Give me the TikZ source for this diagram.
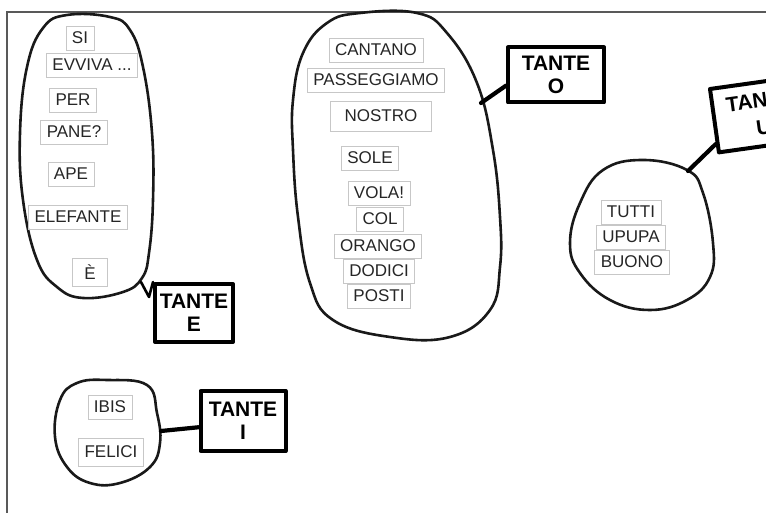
\documentclass[tikz,border=0pt]{standalone}
\usepackage{fontspec}
\setmainfont{Liberation Sans}
\begin{document}
\begin{tikzpicture}[x=1pt,y=-1pt,
  frame/.style={draw=black!65, line width=1.3pt},
  blob/.style={draw=black!90, line width=2.6pt, line join=round},
  word/.style={draw=black!22, line width=0.7pt, font=\fontsize{17}{19}\selectfont, text=black!85, inner xsep=6pt, inner ysep=0pt, minimum height=24pt},
  tbox/.style={draw=black, line width=4pt, line join=round, font=\fontsize{21}{23}\selectfont\bfseries, align=center, inner sep=0pt},
  conn/.style={draw=black, line width=4.2pt, line cap=round, line join=round}]
\useasboundingbox (0,0) rectangle (766,513);
\fill[white] (0,0) rectangle (766,513);
\clip (0,0) rectangle (766,513);
% frame
\draw[frame] (7,513) -- (7,12) -- (766,12);

% blobs
\draw[blob] plot[smooth cycle, tension=0.7] coordinates {(67,15) (110,17) (130,30) (143,67) (152,133) (153,200) (149,253) (142,278) (123,292) (83,298) (57,287) (37,260) (23,200) (20,133) (27,67) (43,28)};
\draw[blob] plot[smooth cycle, tension=0.7] coordinates {(360,13) (417,13) (447,33) (477,83) (493,150) (500,217) (500,267) (490,310) (450,337) (390,337) (333,320) (310,283) (298,217) (293,150) (293,100) (303,53) (327,23)};
\draw[blob] plot[smooth cycle, tension=0.7] coordinates {(643,160) (687,170) (703,193) (713,243) (710,277) (687,300) (650,310) (610,300) (580,273) (570,243) (580,203) (603,170)};
\draw[blob] plot[smooth cycle, tension=0.7] coordinates {(107,380) (147,385) (157,413) (160,443) (150,467) (120,483) (90,483) (67,467) (55,437) (60,400) (77,383)};

% words, blob E
\node[word] (si) at (80,38) {SI};
\node[word] (evviva) at (92,65) {EVVIVA ...};
\node[word] (per) at (73,100) {PER};
\node[word] (pane) at (74,132) {PANE?};
\node[word] (ape) at (71,174) {APE};
\node[word] (elefante) at (78,217) {ELEFANTE};
\node[word, minimum height=28pt, inner xsep=12pt] (ee) at (90,272) {È};
% words, blob O
\node[word] (cantano) at (376,50) {CANTANO};
\node[word] (passeggiamo) at (376,80) {PASSEGGIAMO};
\node[word, minimum height=30pt, inner xsep=14pt] (nostro) at (381,116) {NOSTRO};
\node[word] (sole) at (370,158) {SOLE};
\node[word] (vola) at (379,193) {VOLA!};
\node[word] (col) at (380,219) {COL};
\node[word] (orango) at (378,246) {ORANGO};
\node[word] (dodici) at (379,271) {DODICI};
\node[word] (posti) at (379,296) {POSTI};
% words, blob U
\node[word] (tutti) at (631,212) {TUTTI};
\node[word] (upupa) at (631,237) {UPUPA};
\node[word] (buono) at (632,262) {BUONO};
% words, blob I
\node[word] (ibis) at (110,407) {IBIS};
\node[word, minimum height=28pt] (felici) at (111,452) {FELICI};

% boxes
\node[tbox, minimum width=78pt, minimum height=58pt] (boxE) at (194,313) {TANTE\\E};
\node[tbox, minimum width=96pt, minimum height=55pt] (boxO) at (556,75) {TANTE\\O};
\node[tbox, minimum width=96pt, minimum height=64pt, rotate=8, font=\fontsize{21}{27}\selectfont\bfseries] (boxU) at (762,114) {TANTE\\U};
\node[tbox, minimum width=85pt, minimum height=60pt] (boxI) at (243,421) {TANTE\\I};

% connectors
\coordinate (bE) at (141,282);
\coordinate (vE) at (149,297);
\coordinate (bO) at (481,103);
\coordinate (bU) at (688,171);
\coordinate (bI) at (161,431);
\draw[conn, line width=2.6pt] (bE) -- (vE) -- (boxE.north west);
\draw[conn] (bO) -- (boxO.192);
\draw[conn] (bU) -- (boxU.205);
\draw[conn] (bI) -- (boxI.188);
\end{tikzpicture}
\end{document}
